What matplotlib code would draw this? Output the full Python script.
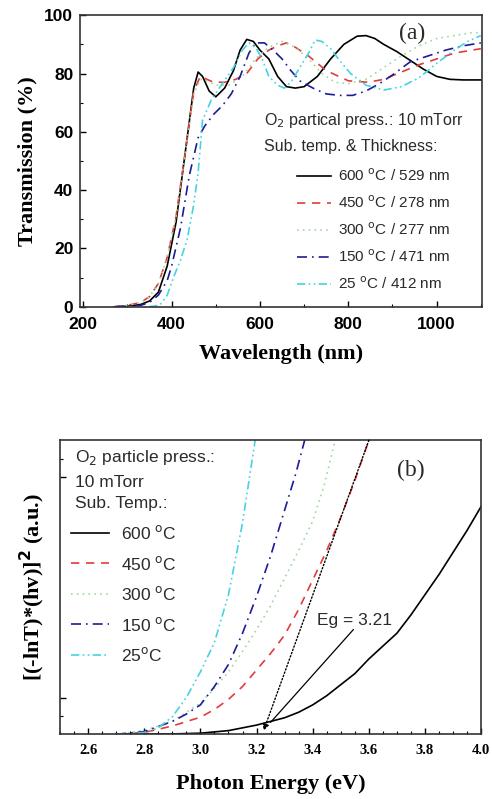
import matplotlib.pyplot as plt
from matplotlib.ticker import MultipleLocator, FixedLocator, NullFormatter

# --- (a) transmission spectra ---
wl_600 = [270, 300, 330, 350, 370, 390, 410, 430, 450, 460, 470, 485, 500, 520, 540, 555, 570, 585,
          600, 620, 640, 660, 680, 700, 730, 760, 790, 820, 840, 860, 880, 910, 940, 970, 1000,
          1030, 1060, 1100]
t_600 = [0, 0.2, 0.8, 2, 5, 14, 29, 52, 75, 80.5, 79, 74, 72, 75, 81, 88, 91.7, 91, 88, 85, 79,
         75.5, 75, 75.5, 79, 85, 90, 92.8, 93, 92, 90, 87.5, 84.5, 81.5, 79, 78, 77.8, 77.8]

wl_450 = [270, 300, 330, 350, 370, 390, 410, 430, 450, 465, 480, 495, 520, 545, 570, 595, 620, 640,
          660, 680, 710, 750, 800, 845, 880, 920, 960, 1000, 1040, 1080, 1100]
t_450 = [0, 0.5, 1.5, 3.5, 8, 17, 31, 52, 74, 79, 78, 77, 77, 78, 80, 85, 88, 89.5, 90.5, 89, 86,
         81, 77.5, 77, 78, 80.5, 83, 85, 87, 88, 88.5]

wl_300 = [270, 300, 330, 350, 370, 390, 410, 430, 450, 465, 480, 500, 530, 560, 590, 620, 650, 680,
          710, 740, 770, 800, 840, 880, 920, 960, 1000, 1040, 1080, 1100]
t_300 = [0, 0.5, 1.5, 3.5, 8, 17, 31, 52, 73, 78, 77.5, 76, 76, 79, 85, 89, 91, 89, 85, 80, 77,
         76.5, 78, 82, 86, 89.5, 92, 93, 94, 94]

wl_150 = [270, 300, 330, 350, 370, 390, 400, 420, 440, 460, 475, 495, 515, 535, 555, 575, 590, 610,
          630, 650, 670, 690, 720, 750, 780, 810, 840, 870, 900, 940, 980, 1020, 1060, 1100]
t_150 = [0, 0.3, 0.5, 1.5, 4, 9, 14, 27, 45, 58, 62, 66, 69, 73, 79, 87, 90.5, 90.5, 88, 85, 81,
         77.5, 75, 73, 72.5, 72.5, 74, 76.5, 79.5, 84, 86, 88, 89.5, 90.5]

wl_25 = [300, 340, 360, 374, 390, 404, 420, 435, 450, 460, 470, 490, 510, 540, 560, 575, 590, 605,
         620, 640, 655, 670, 690, 710, 725, 740, 760, 780, 805, 840, 880, 920, 960, 1000, 1040,
         1070, 1100]
t_25 = [0, 0, 0.2, 0.7, 4, 10, 16, 23, 35, 46, 64, 71, 75.5, 82, 88, 90.5, 89, 85, 79, 76, 75, 77,
        82, 87, 91.5, 91, 88.5, 84.5, 80, 76, 74.3, 75.5, 78.5, 83.5, 88, 91, 93]

labels_a = ["600 $^{\\rm o}$C / 529 nm", "450 $^{\\rm o}$C / 278 nm", "300 $^{\\rm o}$C / 277 nm",
            "150 $^{\\rm o}$C / 471 nm", "25 $^{\\rm o}$C / 412 nm"]

# --- (b) Tauc plot ---
e_600 = [2.7, 2.9, 3.0, 3.1, 3.2, 3.25, 3.3, 3.35, 3.4, 3.45, 3.5, 3.55, 3.6, 3.65, 3.7, 3.75,
         3.8, 3.85, 3.9, 3.95, 4.0]
a_600 = [0, 0.02, 0.06, 0.2, 0.5, 0.7, 0.9, 1.2, 1.6, 2.1, 2.7, 3.3, 4.1, 4.8, 5.5, 6.5, 7.6,
         8.7, 9.9, 11.1, 12.4]
e_450 = [2.7, 2.8, 2.9, 3.0, 3.05, 3.1, 3.15, 3.2, 3.25, 3.3, 3.35, 3.4, 3.45, 3.5, 3.55, 3.6, 3.62]
a_450 = [0, 0.1, 0.45, 0.93, 1.35, 1.9, 2.6, 3.5, 4.4, 5.4, 6.8, 8.4, 10.0, 11.8, 13.8, 16, 17]
e_300 = [2.7, 2.8, 2.9, 3.0, 3.05, 3.1, 3.15, 3.2, 3.25, 3.3, 3.35, 3.4, 3.44, 3.48, 3.5]
a_300 = [0, 0.2, 0.7, 1.7, 2.5, 3.4, 4.5, 5.7, 7.0, 8.5, 10.0, 11.6, 13.5, 16, 17]
e_150 = [2.7, 2.8, 2.9, 2.95, 3.0, 3.05, 3.1, 3.15, 3.2, 3.25, 3.3, 3.34, 3.38]
a_150 = [0, 0.15, 0.7, 1.1, 1.6, 2.6, 3.8, 5.5, 7.5, 9.7, 12.2, 14.2, 16.5]
e_25 = [2.7, 2.8, 2.85, 2.9, 2.95, 3.0, 3.05, 3.1, 3.15, 3.2]
a_25 = [0, 0.1, 0.35, 0.95, 2.0, 3.4, 5.0, 7.6, 11.5, 16.5]

labels_b = ["600 $^{\\rm o}$C", "450 $^{\\rm o}$C", "300 $^{\\rm o}$C", "150 $^{\\rm o}$C",
            "25$^{\\rm o}$C"]

tangent_top = (3.60, 16.0)
tangent_bottom = (3.225, 0.2)
eg_text = (3.415, 6.2)
eg_line_start = (3.545, 5.7)
eg_line_end = (3.25, 0.65)

# styles
colors = ["black", "#e03c3c", "#9fd89f", "#1c1c96", "#45d3e3"]
dashes = [None, (5, 4), (1, 2.5), (6, 3, 1, 3), (5, 2, 1, 2, 1, 2)]

sans = "Liberation Sans"
serif = "Liberation Serif"
txt_color = "#2a2a2a"

fig = plt.figure(figsize=(4.92, 7.99), dpi=100)
ax1 = fig.add_axes([0.163, 0.616, 0.817, 0.365])
ax2 = fig.add_axes([0.122, 0.081, 0.856, 0.368])


def draw(ax, xs, ys, labels):
    handles = []
    for x, y, c, d, lab in zip(xs, ys, colors, dashes, labels):
        ln, = ax.plot(x, y, color=c, lw=1.2, label=lab)
        if d is not None:
            ln.set_dashes(d)
        handles.append(ln)
    return handles


h1 = draw(ax1, [wl_600, wl_450, wl_300, wl_150, wl_25],
          [t_600, t_450, t_300, t_150, t_25], labels_a)
ax1.set_xlim(193, 1103)
ax1.set_ylim(0, 100)
ax1.xaxis.set_major_locator(MultipleLocator(200))
ax1.xaxis.set_minor_locator(MultipleLocator(100))
ax1.yaxis.set_major_locator(MultipleLocator(20))
ax1.yaxis.set_minor_locator(MultipleLocator(10))
ax1.tick_params(which="both", direction="in", top=False, right=False)
ax1.tick_params(which="major", length=4, width=1)
ax1.tick_params(which="minor", length=2, width=0.8)
ax1.tick_params(axis="x", pad=7)
ax1.tick_params(axis="y", pad=5)
for lab in ax1.get_xticklabels() + ax1.get_yticklabels():
    lab.set_fontfamily(sans)
    lab.set_fontweight("bold")
    lab.set_fontsize(12.5)
ax1.set_xlabel("Wavelength (nm)", family=serif, fontweight="bold", fontsize=16, labelpad=9)
ax1.set_ylabel("Transmission (%)", family=serif, fontweight="bold", fontsize=16, labelpad=5)
for s in ax1.spines.values():
    s.set_linewidth(1.2)
    s.set_color("#333333")

ax1.text(0.826, 0.938, "(a)", transform=ax1.transAxes, family=serif, fontsize=17,
         ha="center", va="center", color=txt_color)
ax1.text(0.457, 0.64, "O$_2$ partical press.: 10 mTorr", transform=ax1.transAxes,
         family=sans, fontsize=11.5, va="center", color=txt_color)
ax1.text(0.457, 0.551, "Sub. temp. & Thickness:", transform=ax1.transAxes,
         family=sans, fontsize=11.5, va="center", color=txt_color)
leg1 = ax1.legend(handles=h1, loc="upper left", bbox_to_anchor=(0.54, 0.478), frameon=False,
                  prop={"family": sans, "size": 11}, handlelength=2.2, handletextpad=0.45,
                  labelspacing=0.68, borderpad=0, borderaxespad=0)
for t in leg1.get_texts():
    t.set_color(txt_color)

# --- panel b ---
h2 = draw(ax2, [e_600, e_450, e_300, e_150, e_25],
          [a_600, a_450, a_300, a_150, a_25], labels_b)
ax2.set_xlim(2.5, 4.0)
ax2.set_ylim(0, 16)
ax2.xaxis.set_major_locator(MultipleLocator(0.2))
ax2.xaxis.set_minor_locator(MultipleLocator(0.05))
ax2.yaxis.set_major_locator(FixedLocator([2, 14]))
ax2.yaxis.set_minor_locator(FixedLocator([1, 15]))
ax2.yaxis.set_major_formatter(NullFormatter())
ax2.tick_params(which="both", direction="in", top=False, right=False)
ax2.tick_params(which="major", length=4, width=1)
ax2.tick_params(which="minor", length=2, width=0.8)
ax2.tick_params(axis="x", pad=7)
for lab in ax2.get_xticklabels():
    lab.set_fontfamily(serif)
    lab.set_fontweight("bold")
    lab.set_fontsize(10.5)
ax2.set_xlabel("Photon Energy (eV)", family=serif, fontweight="bold", fontsize=16, labelpad=12)
ax2.set_ylabel("[(-lnT)*(hv)]$^{\\bf 2}$ (a.u.)", family=serif, fontweight="bold", fontsize=16,
               labelpad=6)
for s in ax2.spines.values():
    s.set_linewidth(1.2)
    s.set_color("#333333")

ax2.text(0.834, 0.898, "(b)", transform=ax2.transAxes, family=serif, fontsize=17,
         ha="center", va="center", color=txt_color)
ax2.text(0.036, 0.942, "O$_2$ particle press.:", transform=ax2.transAxes,
         family=sans, fontsize=12.5, va="center", color=txt_color)
ax2.text(0.036, 0.857, "10 mTorr", transform=ax2.transAxes,
         family=sans, fontsize=12.5, va="center", color=txt_color)
ax2.text(0.036, 0.786, "Sub. Temp.:", transform=ax2.transAxes,
         family=sans, fontsize=12.5, va="center", color=txt_color)
leg2 = ax2.legend(handles=h2, loc="upper left", bbox_to_anchor=(0.027, 0.715), frameon=False,
                  prop={"family": sans, "size": 12.5}, handlelength=2.15, handletextpad=0.7,
                  labelspacing=0.72, borderpad=0, borderaxespad=0)
for t in leg2.get_texts():
    t.set_color(txt_color)

ax2.annotate("", xy=tangent_bottom, xytext=tangent_top,
             arrowprops=dict(arrowstyle="-|>", color="black", lw=1.0, linestyle=(0, (1, 1.5)),
                             mutation_scale=9, shrinkA=0, shrinkB=0))
ax2.annotate("", xy=eg_line_end, xytext=eg_line_start,
             arrowprops=dict(arrowstyle="-", color="black", lw=0.9, shrinkA=0, shrinkB=0))
ax2.text(eg_text[0], eg_text[1], "Eg = 3.21", family=sans, fontsize=12.5, va="center",
         color=txt_color)

fig.savefig("out.png", dpi=100)
